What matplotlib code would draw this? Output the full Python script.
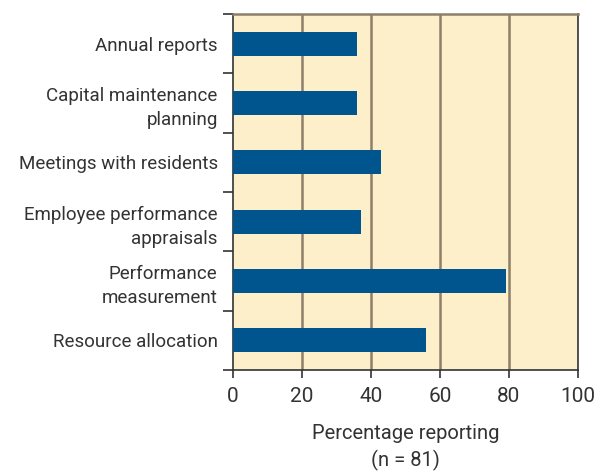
import numpy as np
import matplotlib.pyplot as plt
from matplotlib import font_manager

names = {f.name for f in font_manager.fontManager.ttflist}
fam = "Liberation Sans Narrow" if "Liberation Sans Narrow" in names else "Roboto"
plt.rcParams['font.family'] = [fam, 'DejaVu Sans']

categories = ["Annual reports", "Capital maintenance\nplanning", "Meetings with residents",
              "Employee performance\nappraisals", "Performance\nmeasurement", "Resource allocation"]
values = [36, 36, 43, 37, 79, 56]
xticks = [0, 20, 40, 60, 80, 100]

fig = plt.figure(figsize=(6.06, 4.72), dpi=100)
ax = fig.add_axes([233/606, 1 - 370/472, 345/606, 356/472])
ax.set_facecolor('#fdefc9')

y = np.arange(len(categories))
ax.barh(y, values, height=0.4, color='#00558f', zorder=3)
ax.set_xlim(0, 100)
ax.set_ylim(len(categories) - 0.5, -0.5)

ax.set_xticks(xticks)
ax.set_xticklabels([str(t) for t in xticks], fontsize=15, color='#333333')
ax.set_yticks(y)
ax.set_yticklabels(categories, fontsize=13.5, color='#333333', linespacing=1.45)
ax.set_yticks(np.arange(-0.5, len(categories)), minor=True)
ax.tick_params(axis='y', which='major', length=0, pad=11)
ax.tick_params(axis='y', which='minor', length=7, width=1.2, color='#333333')
ax.tick_params(axis='x', length=6, width=1.2, color='#333333', pad=6)

for t in xticks[1:-1]:
    ax.axvline(t, color='#8c806b', lw=1.8, zorder=1)

ax.spines['top'].set_color('#8c806b')
ax.spines['top'].set_linewidth(1.8)
for s in ['left', 'bottom', 'right']:
    ax.spines[s].set_color('#333333')
    ax.spines[s].set_linewidth(1.2)

ax.set_xlabel("Percentage reporting\n(n = 81)", fontsize=14.5, color='#333333', labelpad=13, linespacing=1.45)

fig.savefig("out.png", dpi=100)
